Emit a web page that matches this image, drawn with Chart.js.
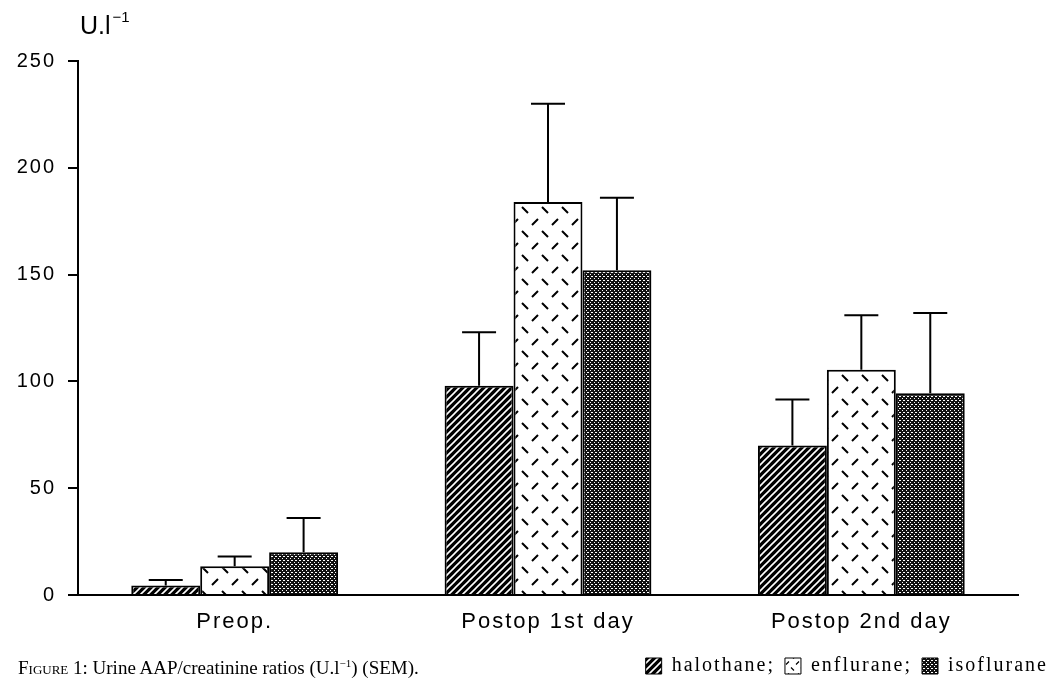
<!DOCTYPE html>
<html>
<head>
<meta charset="utf-8">
<script src="https://cdn.jsdelivr.net/npm/chart.js@4"></script>
<style>
  html, body { margin: 0; padding: 0; background: #fff; }
  .wrap { position: relative; width: 1064px; height: 686px; }
  .caption {
    position: absolute; left: 18px; top: 657px;
    font-family: "Liberation Serif", "DejaVu Serif", serif; font-size: 19px; color: #000;
  }
  .caption .sc { font-variant: small-caps; }
  .caption sup { font-size: 11px; }
</style>
</head>
<body>
<div class="wrap">
  <canvas id="chart" width="1064" height="686"></canvas>
  <div class="caption"><span class="sc">Figure</span> 1: Urine AAP/creatinine ratios (U.l<sup>−1</sup>) (SEM).</div>
</div>
<script>
// values
const categories = ["Preop.", "Postop 1st day", "Postop 2nd day"];
const seriesNames = ["halothane", "enflurane", "isoflurane"];
const halothane = [4.5, 98, 70];
const enflurane = [13.5, 184, 105.5];
const isoflurane = [20, 152, 94.5];
// top of the SEM whisker for each bar
const halothaneErr = [7, 123, 91.5];
const enfluraneErr = [18, 230, 131];
const isofluraneErr = [36, 186, 132];
const yTicks = [0, 50, 100, 150, 200, 250];

// pattern helpers
function makeTile(w, h, draw) {
  const c = document.createElement("canvas");
  c.width = w; c.height = h;
  draw(c.getContext("2d"));
  return document.createElement("canvas").getContext("2d").createPattern(c, "repeat");
}

const hatch = makeTile(7, 7, (g) => {
  g.fillStyle = "#000";
  g.fillRect(0, 0, 7, 7);
  g.strokeStyle = "#fff";
  g.lineWidth = 1.6;
  g.beginPath();
  g.moveTo(-1, 8); g.lineTo(8, -1);
  g.moveTo(-4, 4); g.lineTo(4, -4);
  g.moveTo(3, 11); g.lineTo(11, 3);
  g.stroke();
});

function dashTile(s) {
  return makeTile(20 * s, 24 * s, (g) => {
    g.fillStyle = "#fff";
    g.fillRect(0, 0, 20 * s, 24 * s);
    g.strokeStyle = "#000";
    g.lineWidth = 2 * Math.max(s, 0.6);
    g.beginPath();
    g.moveTo(12 * s, 9 * s); g.lineTo(18 * s, 3 * s);   // "/"
    g.moveTo(2 * s, 15 * s); g.lineTo(8 * s, 21 * s);   // "\"
    g.stroke();
  });
}
const dashes = dashTile(1);
const dashesSmall = dashTile(0.5); // legend swatch is too small for the full-size tile

const stipple = makeTile(4, 4, (g) => {
  g.fillStyle = "#111";
  g.fillRect(0, 0, 4, 4);
  g.fillStyle = "#fff";
  g.fillRect(0, 0, 1, 1);
  g.fillRect(2, 2, 1, 1);
  g.fillRect(3, 0, 1, 1);
});

const errTops = [halothaneErr, enfluraneErr, isofluraneErr];

// draws the upward SEM whiskers from the bar tops
const errorBars = {
  id: "errorBars",
  afterDatasetsDraw(chart) {
    const ctx = chart.ctx;
    const y = chart.scales.y;
    ctx.save();
    ctx.strokeStyle = "#000";
    ctx.lineWidth = 2;
    chart.data.datasets.forEach((ds, i) => {
      const meta = chart.getDatasetMeta(i);
      meta.data.forEach((bar, j) => {
        const top = y.getPixelForValue(errTops[i][j]);
        ctx.beginPath();
        ctx.moveTo(bar.x, bar.y);
        ctx.lineTo(bar.x, top);
        ctx.moveTo(bar.x - 17, top);
        ctx.lineTo(bar.x + 17, top);
        ctx.stroke();
      });
    });
    ctx.restore();
  }
};

// the scan's lettering is loosely spaced; set it before layout so measuring matches drawing
const spacing = {
  id: "spacing",
  beforeLayout(chart) { chart.ctx.letterSpacing = "2px"; },
  beforeDraw(chart) { chart.ctx.letterSpacing = "2px"; }
};

// unit label above the y axis
const unitLabel = {
  id: "unitLabel",
  afterDraw(chart) {
    const ctx = chart.ctx;
    ctx.save();
    ctx.fillStyle = "#000";
    ctx.letterSpacing = "0px";
    ctx.textBaseline = "alphabetic";
    ctx.font = "25px 'Liberation Sans', Arial, sans-serif";
    ctx.fillText("U.l", 80, 34);
    const w = ctx.measureText("U.l").width;
    ctx.font = "15px 'Liberation Sans', Arial, sans-serif";
    ctx.fillText("\u22121", 80 + w + 2, 22);
    ctx.restore();
  }
};

new Chart(document.getElementById("chart"), {
  type: "bar",
  data: {
    labels: categories,
    datasets: [
      { label: seriesNames[0], data: halothane, backgroundColor: hatch },
      { label: seriesNames[1], data: enflurane, backgroundColor: dashes },
      { label: seriesNames[2], data: isoflurane, backgroundColor: stipple }
    ].map((d) => Object.assign(d, {
      borderColor: "#000",
      borderWidth: 2,
      categoryPercentage: 0.66,
      barPercentage: 1.0
    }))
  },
  options: {
    responsive: false,
    animation: false,
    layout: { padding: { left: 10, right: 6, top: 61, bottom: 0 } },
    plugins: {
      tooltip: { enabled: false },
      legend: {
        position: "bottom",
        align: "end",
        labels: {
          color: "#000",
          boxWidth: 16,
          boxHeight: 16,
          padding: 10,
          font: { family: "'Liberation Serif', 'DejaVu Serif', serif", size: 20 },
          generateLabels(chart) {
            const items = Chart.defaults.plugins.legend.labels.generateLabels(chart);
            items.forEach((it, k) => {
              if (k < items.length - 1) it.text = it.text + ";";
              if (k === 1) it.fillStyle = dashesSmall;
              it.lineWidth = 1;
            });
            return items;
          }
        }
      }
    },
    scales: {
      x: {
        grid: { display: false },
        border: { display: true, color: "#000", width: 2 },
        ticks: {
          color: "#000",
          padding: 6,
          font: { family: "'Liberation Sans', Arial, sans-serif", size: 22 }
        },
        afterFit(s) { s.height = 51; }
      },
      y: {
        min: 0,
        max: 250,
        afterBuildTicks(s) { s.ticks = yTicks.map((v) => ({ value: v })); },
        grid: { drawOnChartArea: false, drawTicks: true, tickLength: 10, color: "#000", lineWidth: 2 },
        border: { display: true, color: "#000", width: 2 },
        ticks: {
          color: "#000",
          padding: 12,
          font: { family: "'Liberation Sans', Arial, sans-serif", size: 20 }
        },
        afterFit(s) { s.width = 68; }
      },
      // empty right-hand strip so the plot ends where the original does while the legend runs on
      yRight: {
        position: "right",
        display: true,
        grid: { display: false },
        border: { display: false },
        ticks: { display: false },
        afterFit(s) { s.width = 40; }
      }
    }
  },
  plugins: [spacing, errorBars, unitLabel]
});
</script>
</body>
</html>
